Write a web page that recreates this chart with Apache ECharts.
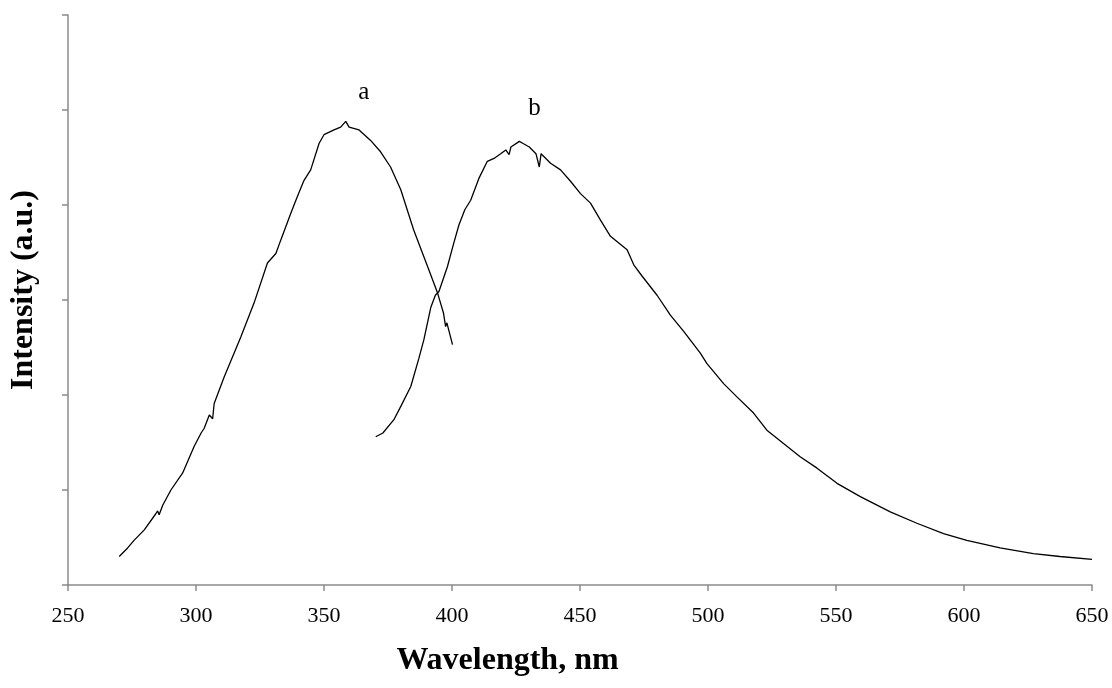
<!DOCTYPE html>
<html>
<head>
<meta charset="utf-8">
<title>Intensity vs Wavelength</title>
<script src="https://cdn.jsdelivr.net/npm/echarts@6/dist/echarts.min.js"></script>
<style>
  html, body { margin: 0; padding: 0; background: #fff; }
  #chart { width: 1112px; height: 688px; }
</style>
</head>
<body>
<div id="chart"></div>
<script>
// spectrum a (wavelength nm, intensity a.u.)
var waveA = [270, 273.3, 275.8, 279.8, 284.3, 285, 285.6, 287, 290.2, 294.8, 299.3, 302, 303.2, 305.2, 306.5, 307.1,
  311, 317.5, 322.7, 327.9, 331.2, 333.1, 337, 339.6, 342.2, 344.8, 348.1, 350, 353.9, 356.5, 358.5, 359.8,
  363.7, 368.2, 372.1, 376, 380, 385, 390.5, 394.4, 396.7, 397.5, 398, 400.2]
var intA = [0.30, 0.39, 0.47, 0.58, 0.75, 0.78, 0.74, 0.84, 1.00, 1.18, 1.46, 1.60, 1.65, 1.79, 1.75, 1.91,
  2.19, 2.61, 2.97, 3.39, 3.49, 3.63, 3.91, 4.09, 4.26, 4.37, 4.65, 4.74, 4.79, 4.82, 4.88, 4.82,
  4.79, 4.68, 4.56, 4.40, 4.16, 3.74, 3.35, 3.07, 2.86, 2.72, 2.76, 2.53]

// spectrum b
var waveB = [370.2, 373, 377.3, 380, 383.9, 387, 389, 391.7, 393.5, 394.9, 398.2, 400.5, 402.7, 405, 407.3,
  410.5, 413.8, 416.4, 419, 421, 422.3, 423, 426.3, 427.6, 430.2, 432.8, 434.1, 434.8, 438.5, 442.4,
  446.3, 450.2, 454.1, 458, 461.9, 468.4, 471, 474.3, 480.1, 485.3, 490.5, 497, 499.6, 506.1, 511.3,
  517.8, 523, 529.5, 536, 542.6, 550.4, 559.5, 571.2, 581.6, 592, 601.1, 614.1, 627.1, 637.5, 650]
var intB = [1.56, 1.60, 1.74, 1.88, 2.09, 2.38, 2.58, 2.92, 3.05, 3.09, 3.35, 3.58, 3.79, 3.95, 4.05,
  4.28, 4.46, 4.49, 4.54, 4.58, 4.53, 4.61, 4.67, 4.65, 4.61, 4.54, 4.40, 4.54, 4.44, 4.37,
  4.25, 4.12, 4.02, 3.84, 3.67, 3.53, 3.37, 3.25, 3.05, 2.84, 2.67, 2.44, 2.33, 2.12, 1.98,
  1.81, 1.63, 1.49, 1.35, 1.23, 1.07, 0.93, 0.77, 0.65, 0.54, 0.47, 0.39, 0.33, 0.30, 0.27]

var xTicks = [250, 650, 50]   // min, max, step
var yTicks = [0, 6, 1]
var curveNames = ['a', 'b']
var labelPos = [[365.5, 5.18], [432.2, 5.02]]

function pairs (xs, ys) {
  var out = []
  for (var i = 0; i < xs.length; i++) {
    out.push([xs[i], ys[i]])
  }
  return out
}

var serif = '"Times New Roman", "Liberation Serif", serif'
var axisGray = '#8a8a8a'

function curve (name, data, pos) {
  return {
    name: name,
    type: 'line',
    data: data,
    showSymbol: false,
    smooth: false,
    lineStyle: { color: '#000', width: 1.3 },
    silent: true,
    markPoint: {
      symbol: 'circle',
      symbolSize: 1,
      itemStyle: { color: 'rgba(0,0,0,0)' },
      label: {
        show: true,
        position: 'inside',
        formatter: name,
        color: '#000',
        fontFamily: serif,
        fontSize: 25
      },
      data: [{ coord: pos }]
    }
  }
}

var chart = echarts.init(document.getElementById('chart'))
chart.setOption({
  backgroundColor: '#fff',
  animation: false,
  grid: { left: 67, right: 20, top: 15, bottom: 103 },
  xAxis: {
    type: 'value',
    min: xTicks[0],
    max: xTicks[1],
    interval: xTicks[2],
    name: 'Wavelength, nm',
    nameLocation: 'middle',
    nameGap: 60,
    nameTextStyle: {
      color: '#000', fontFamily: serif, fontSize: 32, fontWeight: 'bold',
      padding: [0, 145, 0, 0]
    },
    axisLine: { lineStyle: { color: axisGray, width: 1.5 } },
    axisTick: { length: 6, lineStyle: { color: axisGray, width: 1.5 } },
    axisLabel: { color: '#000', fontFamily: serif, fontSize: 22, margin: 20 },
    splitLine: { show: false }
  },
  yAxis: {
    type: 'value',
    min: yTicks[0],
    max: yTicks[1],
    interval: yTicks[2],
    name: 'Intensity (a.u.)',
    nameLocation: 'middle',
    nameGap: 28,
    nameTextStyle: {
      color: '#000', fontFamily: serif, fontSize: 32, fontWeight: 'bold',
      padding: [0, 0, 0, 20]
    },
    axisLine: { show: true, lineStyle: { color: axisGray, width: 1.5 } },
    axisTick: { show: true, length: 6, lineStyle: { color: axisGray, width: 1.5 } },
    axisLabel: { show: false },
    splitLine: { show: false }
  },
  series: [
    curve(curveNames[0], pairs(waveA, intA), labelPos[0]),
    curve(curveNames[1], pairs(waveB, intB), labelPos[1])
  ]
})
</script>
</body>
</html>
